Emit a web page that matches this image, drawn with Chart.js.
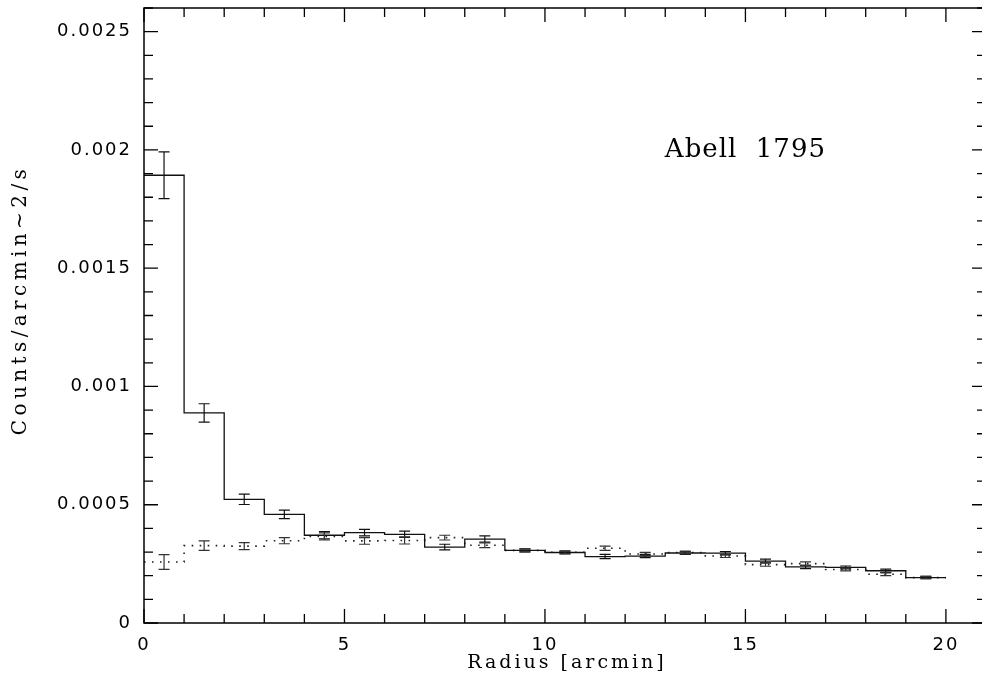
<!DOCTYPE html>
<html>
<head>
<meta charset="utf-8">
<script src="https://cdn.jsdelivr.net/npm/chart.js@4/dist/chart.umd.min.js"></script>
<style>
  html, body { margin: 0; padding: 0; background: #fff; overflow: hidden; }
  #wrap { width: 990px; height: 686px; }
</style>
</head>
<body>
<div id="wrap"><canvas id="profile" width="990" height="686"></canvas></div>
<script>
// bin centres and edges (arcmin)
var radius   = [0.5, 1.5, 2.5, 3.5, 4.5, 5.5, 6.5, 7.5, 8.5, 9.5, 10.5, 11.5, 12.5, 13.5, 14.5, 15.5, 16.5, 17.5, 18.5, 19.5];
var binEdges = [0, 1, 2, 3, 4, 5, 6, 7, 8, 9, 10, 11, 12, 13, 14, 15, 16, 17, 18, 19, 20];

// solid histogram
var solidCounts = [0.001893, 0.000888, 0.000523, 0.000459, 0.000371, 0.000382, 0.000375, 0.000321, 0.000355, 0.000307,
                   0.000298, 0.000281, 0.000283, 0.000296, 0.000295, 0.000262, 0.000237, 0.000235, 0.000221, 0.000192];
var solidErr    = [0.000099, 0.000039, 0.000022, 0.000018, 0.000015, 0.000014, 0.000013, 0.000012, 0.000013, 0.000006,
                   0.000006, 0.000009, 0.000007, 0.000006, 0.000007, 0.000008, 0.000007, 0.000006, 0.000007, 0.000005];

// dotted histogram
var dottedCounts = [0.000258, 0.000327, 0.000325, 0.000348, 0.000366, 0.000347, 0.000349, 0.000361, 0.000329, 0.000307,
                    0.000299, 0.000316, 0.000292, 0.000298, 0.000283, 0.000247, 0.000251, 0.000226, 0.000206, 0.000192];
var dottedErr    = [0.000031, 0.000020, 0.000015, 0.000013, 0.000015, 0.000014, 0.000015, 0.000010, 0.000010, 0.000006,
                    0.000006, 0.000009, 0.000007, 0.000006, 0.000006, 0.000007, 0.000007, 0.000006, 0.000006, 0.000005];

var yTickLabels = [0, 0.0005, 0.001, 0.0015, 0.002, 0.0025];
var xTickLabels = [0, 5, 10, 15, 20];

var xTitle = 'Radius [arcmin]';
var yTitle = 'Counts/arcmin~2/s';
var label  = 'Abell  1795';

// step line: one point per bin edge, last value repeated at the outer edge
function steps(vals) {
    return binEdges.map(function(e, i) {
        return { x: e, y: vals[Math.min(i, vals.length - 1)] };
    });
}

// wider letter spacing like the original plot lettering
var spacing = {
    id: 'spacing',
    beforeDraw: function(chart) { chart.ctx.letterSpacing = '2px'; }
};

// frame with inward ticks on all four sides, titles and the label
var frame = {
    id: 'frame',
    afterDraw: function(chart) {
        var ctx = chart.ctx, a = chart.chartArea;
        var xs = chart.scales.x, ys = chart.scales.y;
        ctx.save();
        ctx.strokeStyle = '#000';
        ctx.lineWidth = 1.5;
        ctx.strokeRect(a.left, a.top, a.right - a.left, a.bottom - a.top);
        ctx.lineWidth = 1.3;
        ctx.beginPath();
        for (var i = 0; i <= 21; i++) {
            var px = xs.getPixelForValue(i);
            var len = (i % 5 == 0) ? 14 : 9;
            ctx.moveTo(px, a.bottom); ctx.lineTo(px, a.bottom - len);
            ctx.moveTo(px, a.top); ctx.lineTo(px, a.top + len);
        }
        for (var j = 0; j <= 26; j++) {
            var py = ys.getPixelForValue(j * 0.0001);
            var l2 = (j % 5 == 0) ? 14 : 9;
            ctx.moveTo(a.left, py); ctx.lineTo(a.left + l2, py);
            ctx.moveTo(a.right, py); ctx.lineTo(a.right - l2, py);
        }
        ctx.stroke();

        ctx.fillStyle = '#000';
        ctx.textAlign = 'center';
        ctx.textBaseline = 'middle';

        ctx.letterSpacing = '1px';
        ctx.font = '26px "DejaVu Serif"';
        ctx.fillText(label, xs.getPixelForValue(15), ys.getPixelForValue(0.002));

        ctx.letterSpacing = '3px';
        ctx.font = '19px "DejaVu Serif"';
        ctx.fillText(xTitle, 567, 663);

        ctx.translate(21, 300);
        ctx.rotate(-Math.PI / 2);
        ctx.letterSpacing = '4.4px';
        ctx.font = '20px "DejaVu Serif"';
        ctx.fillText(yTitle, 0, 0);
        ctx.restore();
    }
};

// vertical error bars with caps at bin centres
var errorBars = {
    id: 'errorBars',
    afterDatasetsDraw: function(chart) {
        var ctx = chart.ctx;
        var xs = chart.scales.x, ys = chart.scales.y;
        var sets = [[solidCounts, solidErr, '#111'], [dottedCounts, dottedErr, '#333']];
        ctx.save();
        ctx.lineWidth = 1.2;
        sets.forEach(function(s) {
            ctx.strokeStyle = s[2];
            ctx.beginPath();
            for (var i = 0; i < radius.length; i++) {
                var px = xs.getPixelForValue(radius[i]);
                var lo = ys.getPixelForValue(s[0][i] - s[1][i]);
                var hi = ys.getPixelForValue(s[0][i] + s[1][i]);
                ctx.moveTo(px, lo); ctx.lineTo(px, hi);
                ctx.moveTo(px - 5.5, lo); ctx.lineTo(px + 5.5, lo);
                ctx.moveTo(px - 5.5, hi); ctx.lineTo(px + 5.5, hi);
            }
            ctx.stroke();
        });
        ctx.restore();
    }
};

var ctx = document.getElementById('profile').getContext('2d');
var chart = new Chart(ctx, {
    type: 'line',
    data: {
        datasets: [{
            data: steps(solidCounts),
            stepped: 'before',
            borderColor: '#111',
            borderWidth: 1.3,
            pointRadius: 0,
            fill: false
        }, {
            data: steps(dottedCounts),
            stepped: 'before',
            borderColor: '#222',
            borderWidth: 1.6,
            borderDash: [1.6, 6.4],
            pointRadius: 0,
            fill: false
        }]
    },
    options: {
        responsive: false,
        animation: false,
        layout: { padding: { top: 8, right: 4, bottom: 0, left: 0 } },
        plugins: { legend: { display: false }, tooltip: { enabled: false } },
        scales: {
            x: {
                type: 'linear',
                min: 0,
                max: 21,
                afterBuildTicks: function(s) {
                    s.ticks = xTickLabels.map(function(v) { return { value: v }; });
                },
                afterFit: function(s) {
                    s.height = 63;
                    s.paddingLeft = 0;
                    s.paddingRight = 0;
                },
                ticks: {
                    color: '#000',
                    font: { family: 'DejaVu Sans', size: 18 },
                    padding: 4,
                    maxRotation: 0
                },
                grid: { display: false },
                border: { display: false },
                title: { display: false }
            },
            y: {
                min: 0,
                max: 0.0026,
                afterBuildTicks: function(s) {
                    s.ticks = yTickLabels.map(function(v) { return { value: v }; });
                },
                afterFit: function(s) {
                    s.width = 144;
                    s.paddingTop = 0;
                    s.paddingBottom = 0;
                },
                ticks: {
                    color: '#000',
                    font: { family: 'DejaVu Sans', size: 18 },
                    padding: 4,
                    callback: function(v) { return String(parseFloat(Number(v).toFixed(4))); }
                },
                grid: { display: false },
                border: { display: false },
                title: { display: false }
            }
        }
    },
    plugins: [spacing, frame, errorBars]
});
</script>
</body>
</html>
